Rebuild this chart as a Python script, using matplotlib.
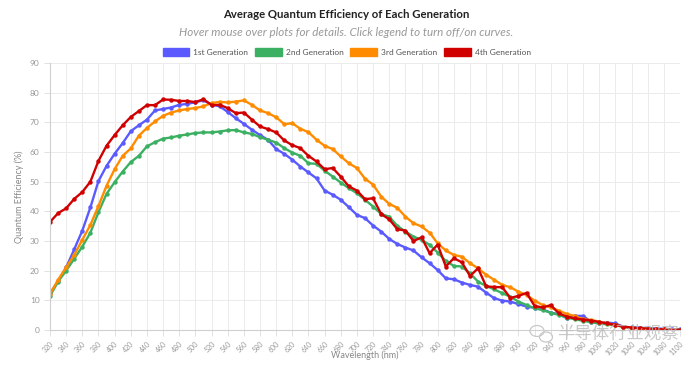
import numpy as np
import matplotlib
matplotlib.use("Agg")
import matplotlib.pyplot as plt
from matplotlib.patches import Patch, Ellipse

plt.rcParams["font.family"] = ["Lato", "DejaVu Sans"]

# wavelengths, 320..1100 nm every 10 nm
wavelength = np.arange(320, 1101, 10)

gen1 = [12.4, 16.4, 21.1, 27.2, 33.5, 41.3, 50.2, 55.3, 59.4, 63.0,
        67.0, 69.0, 70.9, 74.0, 74.5, 75.0, 75.9, 76.2, 76.8, 77.4,
        76.0, 75.4, 73.5, 71.4, 69.5, 67.5, 65.7, 64.1, 61.0, 59.4,
        57.4, 55.1, 53.1, 51.1, 47.0, 45.6, 43.9, 41.4, 38.8, 37.7,
        35.2, 33.2, 30.7, 29.0, 27.8, 26.8, 24.5, 22.5, 20.2, 17.4,
        17.1, 16.0, 15.2, 14.6, 12.6, 10.7, 9.9, 9.6, 8.7, 7.9,
        7.5, 7.0, 5.8, 5.4, 3.9, 4.8, 4.7, 2.8, 2.5, 2.5,
        2.2, 1.1, 0.9, 0.8, 0.6, 0.5, 0.4, 0.3, 0.2]
gen2 = [11.5, 16.3, 20.0, 24.0, 28.1, 32.8, 39.7, 45.9, 49.8, 53.4,
        56.6, 58.7, 61.9, 63.3, 64.5, 64.9, 65.5, 65.9, 66.4, 66.6,
        66.6, 66.9, 67.3, 67.4, 66.6, 66.1, 65.0, 64.1, 63.2, 61.3,
        59.8, 58.7, 56.2, 56.0, 53.7, 51.7, 49.7, 47.8, 46.1, 43.9,
        41.6, 39.1, 38.2, 35.1, 33.2, 31.5, 30.4, 28.7, 26.1, 23.3,
        21.6, 21.4, 19.1, 16.3, 14.8, 13.7, 12.4, 11.2, 9.6, 8.4,
        7.3, 6.7, 5.8, 5.1, 4.2, 3.6, 3.1, 2.6, 2.2, 1.9,
        1.6, 1.1, 0.8, 0.6, 0.4, 0.3, 0.2, 0.1, 0.0]
gen3 = [12.1, 16.9, 21.1, 25.3, 30.4, 35.4, 41.8, 48.6, 54.2, 58.7,
        61.2, 65.5, 68.1, 70.3, 72.2, 73.3, 74.0, 74.5, 74.8, 75.4,
        76.5, 76.9, 76.7, 77.0, 77.4, 75.9, 74.0, 73.1, 71.7, 69.4,
        69.7, 67.8, 66.7, 64.1, 62.1, 61.0, 58.5, 56.2, 54.6, 51.0,
        49.0, 45.0, 42.5, 41.2, 38.2, 36.0, 34.9, 32.8, 29.2, 26.8,
        25.3, 24.7, 22.5, 20.8, 18.6, 16.9, 15.2, 14.4, 12.9, 11.8,
        9.9, 8.4, 7.6, 6.5, 5.4, 4.7, 3.6, 3.4, 2.8, 2.2,
        1.7, 1.1, 0.8, 0.6, 0.4, 0.3, 0.2, 0.1, 0.0]
gen4 = [36.4, 39.4, 41.0, 44.2, 46.5, 50.0, 57.0, 62.1, 65.7, 69.0,
        71.8, 73.8, 75.8, 75.8, 77.7, 77.6, 77.2, 77.2, 76.8, 77.8,
        75.8, 75.9, 74.8, 73.1, 73.3, 70.9, 68.6, 67.7, 66.6, 63.9,
        62.3, 61.3, 58.7, 56.8, 54.2, 54.6, 51.7, 48.4, 47.0, 44.1,
        44.4, 39.1, 37.3, 34.0, 33.5, 30.0, 31.2, 25.9, 28.8, 21.4,
        24.2, 22.8, 18.2, 20.8, 14.7, 14.5, 14.4, 10.8, 11.5, 12.5,
        8.1, 7.6, 8.4, 5.6, 4.5, 3.9, 3.5, 3.2, 2.7, 2.2,
        1.7, 1.1, 0.8, 0.6, 0.4, 0.3, 0.2, 0.1, 0.0]

labels = ["1st Generation", "2nd Generation", "3rd Generation", "4th Generation"]
colors = ["#5a5aff", "#3cb062", "#ff8c00", "#d00000"]

fig = plt.figure(figsize=(6.98, 3.67), dpi=100)
ax = fig.add_axes([50 / 698, 1 - 330 / 367, 630 / 698, 267 / 367])

for ys, c in zip([gen1, gen2, gen3, gen4], colors):
    ax.plot(wavelength, ys, "-o", color=c, linewidth=1.7, markersize=3.2,
            markeredgewidth=0)

ax.set_xlim(320, 1100)
ax.set_ylim(0, 90)
ax.set_xticks(np.arange(320, 1101, 20))
ax.set_xticklabels([str(v) for v in range(320, 1101, 20)], rotation=45,
                   ha="right", rotation_mode="anchor", fontsize=5, color="#999999")
ax.set_yticks(range(0, 91, 10))
ax.tick_params(axis="y", labelsize=6, colors="#dddddd", length=4, width=0.6,
               labelcolor="#999999")
ax.tick_params(axis="x", length=4, width=0.6, colors="#dddddd", labelcolor="#999999")
ax.grid(color="#ebebeb", linewidth=0.7)
ax.set_axisbelow(True)
for s in ("top", "right"):
    ax.spines[s].set_visible(False)
for s in ("left", "bottom"):
    ax.spines[s].set_color("#cfcfcf")
    ax.spines[s].set_linewidth(0.8)

ax.set_ylabel("Quantum Efficiency (%)", fontsize=6.5, color="#888888")
fig.text(365 / 698, 1 - 355 / 367, "Wavelength (nm)", ha="center", va="center",
         fontsize=6.5, color="#888888")

fig.text(0.496, 1 - 14 / 367, "Average Quantum Efficiency of Each Generation",
         ha="center", va="center", fontsize=8.2, fontweight="bold", color="#222222")
fig.text(0.496, 1 - 33 / 367,
         "Hover mouse over plots for details. Click legend to turn off/on curves.",
         ha="center", va="center", fontsize=8.4, style="italic", color="#999999")

handles = [Patch(facecolor=c, edgecolor=c) for c in colors]
fig.legend(handles, labels, loc="center", bbox_to_anchor=(0.497, 1 - 52 / 367),
           ncol=4, frameon=False, fontsize=6, handlelength=3.2, handleheight=1.0,
           columnspacing=0.8, handletextpad=0.5, labelcolor="#555555")

# watermark (wechat bubble + account name)
for cx, cy, w, h in ((537, 331, 14, 11), (546, 337, 13, 10)):
    fig.add_artist(Ellipse((cx / 698, 1 - cy / 367), w / 698, h / 367,
                           transform=fig.transFigure, fill=False,
                           edgecolor="#c8c8c8", linewidth=0.9))
fig.text(618 / 698, 1 - 334 / 367, "半导体行业观察", ha="center", va="center",
         fontsize=12.5, color="#bbbbbb", alpha=0.8,
         family=["Noto Sans CJK SC", "DejaVu Sans"])

fig.savefig("out.png", dpi=100)
